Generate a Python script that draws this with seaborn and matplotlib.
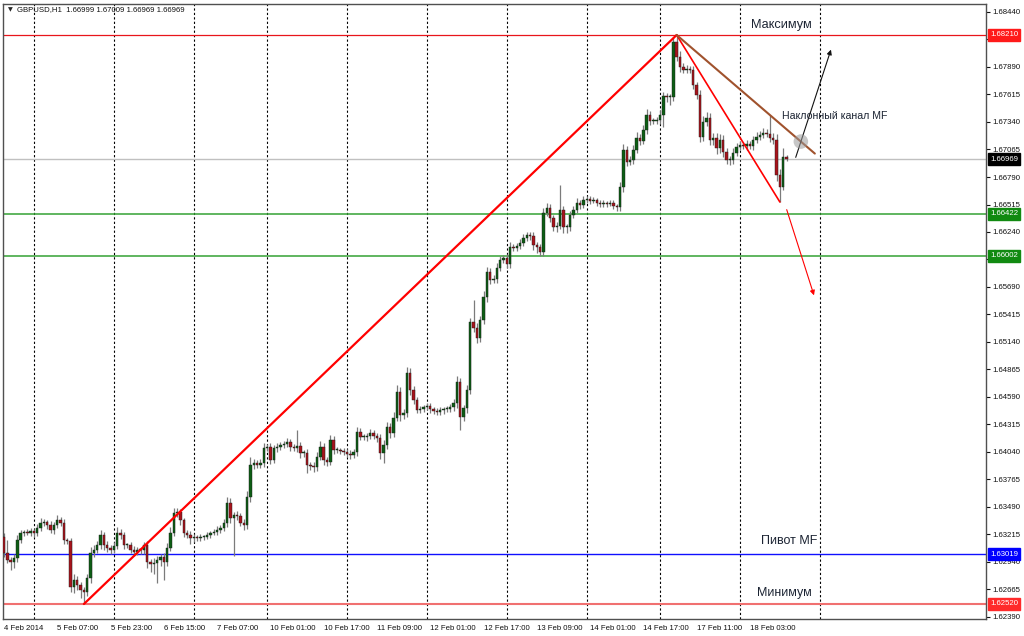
import numpy as np
import pandas as pd
import matplotlib
matplotlib.use("Agg")
import matplotlib.pyplot as plt
import seaborn as sns

# GBPUSD H1, hourly closes from 4 Feb 2014 15:00 to 18 Feb 2014
closes = [
    1.6303, 1.6296, 1.6294, 1.6298, 1.6316, 1.6323, 1.6324, 1.6323, 1.6325, 1.6323, 1.6328, 1.6333,
    1.6334, 1.6331, 1.6326, 1.6331, 1.6336, 1.6333, 1.6316, 1.6315, 1.6269, 1.6276, 1.6271, 1.6266,
    1.6264, 1.6278, 1.6303, 1.6306, 1.6311, 1.6321, 1.6311, 1.6308, 1.6306, 1.6310, 1.6323, 1.6321,
    1.6311, 1.6311, 1.6306, 1.6304, 1.6306, 1.6306, 1.6311, 1.6294, 1.6292, 1.6293, 1.6296, 1.6299,
    1.6294, 1.6308, 1.6323, 1.6343, 1.6344, 1.6336, 1.6323, 1.6321, 1.6318, 1.6319, 1.6318, 1.6319,
    1.6319, 1.6321, 1.6323, 1.6324, 1.6326, 1.6328, 1.6333, 1.6353, 1.6338, 1.6341, 1.6340, 1.6333,
    1.6331, 1.6359, 1.6391, 1.6393, 1.6391, 1.6393, 1.6408, 1.6409, 1.6396, 1.6408, 1.6409, 1.6411,
    1.6412, 1.6414, 1.6409, 1.6408, 1.6410, 1.6403, 1.6403, 1.6391, 1.6390, 1.6389, 1.6399, 1.6409,
    1.6396, 1.6394, 1.6416, 1.6406, 1.6406, 1.6405, 1.6404, 1.6402, 1.6401, 1.6404, 1.6424, 1.6419,
    1.6419, 1.6420, 1.6423, 1.6420, 1.6418, 1.6403, 1.6411, 1.6429, 1.6423, 1.6438, 1.6464, 1.6441,
    1.6443, 1.6483, 1.6466, 1.6456, 1.6446, 1.6447, 1.6449, 1.6450, 1.6447, 1.6445, 1.6444, 1.6446,
    1.6447, 1.6447, 1.6449, 1.6453, 1.6474, 1.6439, 1.6448, 1.6466, 1.6534, 1.6528, 1.6518, 1.6536,
    1.6559, 1.6584, 1.6576, 1.6577, 1.6588, 1.6596, 1.6598, 1.6592, 1.6609, 1.6608, 1.6610, 1.6613,
    1.6618, 1.6621, 1.6620, 1.6611, 1.6609, 1.6604, 1.6643, 1.6648, 1.6638, 1.6629, 1.6630, 1.6646,
    1.6629, 1.6629, 1.6641, 1.6646, 1.6653, 1.6651, 1.6656, 1.6657, 1.6655, 1.6656, 1.6653, 1.6652,
    1.6653, 1.6652, 1.6653, 1.6650, 1.6649, 1.6669, 1.6706, 1.6694, 1.6696, 1.6706, 1.6718, 1.6715,
    1.6726, 1.6741, 1.6735, 1.6735, 1.6736, 1.6741, 1.6760, 1.6759, 1.6759, 1.6814, 1.6799, 1.6789,
    1.6786, 1.6787, 1.6786, 1.6771, 1.6761, 1.6719, 1.6734, 1.6738, 1.6716, 1.6718, 1.6708, 1.6716,
    1.6704, 1.6696, 1.6696, 1.6703, 1.6709, 1.6711, 1.6710, 1.6712, 1.6710, 1.6716, 1.6719, 1.6721,
    1.6723, 1.6722, 1.6718, 1.6716, 1.6681, 1.6669, 1.6699, 1.6697,
]
first_open = 1.6319

# upper / lower shadows in pips
wick_up = [
    4, 13, 3, 4, 5, 3, 2, 3, 3, 2, 4, 5,
    3, 2, 4, 3, 5, 3, 4, 2, 3, 6, 4, 3,
    3, 4, 6, 5, 4, 5, 3, 4, 3, 4, 6, 4,
    3, 2, 3, 4, 3, 2, 3, 4, 3, 5, 4, 3,
    4, 5, 6, 5, 4, 3, 2, 3, 4, 3, 2, 3,
    2, 3, 2, 3, 4, 3, 4, 6, 5, 3, 4, 3,
    4, 6, 8, 4, 3, 4, 5, 3, 4, 3, 4, 3,
    3, 4, 3, 3, 16, 4, 3, 4, 3, 4, 5, 6,
    4, 3, 5, 4, 3, 2, 3, 3, 4, 3, 5, 4,
    3, 3, 4, 3, 3, 4, 5, 5, 4, 6, 7, 5,
    4, 6, 5, 4, 3, 3, 2, 3, 3, 2, 3, 3,
    2, 3, 3, 4, 6, 4, 3, 5, 4, 22, 5, 4,
    6, 5, 4, 4, 5, 4, 3, 4, 5, 3, 3, 4,
    4, 3, 3, 4, 3, 3, 5, 5, 4, 3, 4, 25,
    4, 3, 4, 4, 5, 3, 4, 3, 3, 3, 2, 3,
    3, 2, 3, 3, 2, 5, 6, 4, 4, 5, 6, 4,
    5, 6, 4, 3, 3, 5, 4, 3, 3, 5, 7, 6,
    4, 4, 3, 4, 3, 5, 6, 6, 5, 5, 5, 6,
    5, 4, 4, 5, 4, 4, 3, 4, 3, 4, 5, 4,
    5, 4, 19, 5, 6, 6, 9, 2,
]
wick_dn = [
    4, 3, 8, 6, 4, 3, 3, 2, 3, 4, 3, 3,
    3, 4, 3, 4, 3, 3, 4, 3, 5, 6, 5, 8,
    12, 4, 5, 4, 3, 4, 5, 4, 4, 3, 3, 4,
    4, 3, 3, 4, 3, 4, 4, 6, 8, 10, 20, 6,
    18, 4, 3, 3, 4, 5, 4, 3, 6, 4, 3, 3,
    3, 2, 3, 2, 3, 3, 3, 4, 5, 38, 4, 3,
    5, 4, 5, 4, 3, 3, 4, 3, 4, 3, 4, 3,
    3, 3, 4, 3, 4, 5, 4, 8, 4, 5, 4, 3,
    5, 4, 3, 4, 3, 3, 3, 3, 4, 3, 4, 3,
    3, 4, 3, 3, 4, 6, 10, 4, 5, 4, 3, 6,
    4, 4, 5, 4, 3, 3, 3, 3, 4, 3, 3, 3,
    4, 3, 3, 4, 5, 13, 4, 5, 4, 4, 5, 4,
    4, 5, 4, 3, 4, 3, 3, 4, 4, 3, 3, 3,
    3, 3, 4, 5, 6, 4, 4, 3, 4, 4, 5, 3,
    6, 6, 4, 3, 3, 4, 3, 3, 3, 2, 3, 3,
    3, 3, 2, 3, 4, 4, 5, 4, 3, 4, 3, 4,
    3, 4, 4, 3, 3, 4, 12, 5, 8, 4, 4, 5,
    3, 3, 3, 4, 4, 5, 4, 4, 5, 5, 6, 5,
    5, 4, 5, 4, 3, 3, 3, 4, 3, 4, 3, 3,
    3, 3, 4, 4, 6, 15, 3, 2,
]

xtick_bars = [0, 16, 32, 48, 64, 80, 96, 112, 128, 144, 160, 176, 192, 208, 224]
xtick_labels = ['4 Feb 2014', '5 Feb 07:00', '5 Feb 23:00', '6 Feb 15:00', '7 Feb 07:00',
                '10 Feb 01:00', '10 Feb 17:00', '11 Feb 09:00', '12 Feb 01:00', '12 Feb 17:00',
                '13 Feb 09:00', '14 Feb 01:00', '14 Feb 17:00', '17 Feb 11:00', '18 Feb 03:00']
day_start_bars = [9, 33, 57, 79, 103, 127, 151, 175, 197, 221, 245]
ytick_vals = [1.68440, 1.68165, 1.67890, 1.67615, 1.67340, 1.67065, 1.66790, 1.66515,
              1.66240, 1.65965, 1.65690, 1.65415, 1.65140, 1.64865, 1.64590, 1.64315,
              1.64040, 1.63765, 1.63490, 1.63215, 1.62940, 1.62665, 1.62390]

# horizontal levels: maximum, bid, two green levels, pivot MF, minimum
level_prices = [1.68210, 1.66969, 1.66422, 1.66002, 1.63019, 1.62520]
channel_touch_bar = 230
# hand drawn forecast arrows (bar, price)
arrow_up = [(237.5, 1.6696), (248.6, 1.6809)]
arrow_down = [(234.8, 1.6649), (243.5, 1.6558)]

df = pd.DataFrame({'close': closes})
df['open'] = df['close'].shift(1).fillna(first_open)
df['high'] = df[['open', 'close']].max(axis=1) + np.array(wick_up) * 0.0001
df['low'] = df[['open', 'close']].min(axis=1) - np.array(wick_dn) * 0.0001

sns.set_style('white')
plt.rcParams['font.family'] = ['Liberation Sans', 'DejaVu Sans']

fig = plt.figure(figsize=(10.24, 6.36), dpi=100)
ax = fig.add_axes([3 / 1024, 17 / 636, 983 / 1024, 615 / 636])
ax.set_xlim(-0.3, 294.9)
ax.set_ylim(1.6237, 1.6852)

# day separators
for b in day_start_bars:
    ax.axvline(b, color='black', lw=0.8, ls=(0, (2, 2)), zorder=1)

# levels
lv_colors = ['#e8151b', '#c0c0c0', '#34a234', '#34a234', '#1010ff', '#f07070']
lv_widths = [0.9, 1.0, 1.1, 1.1, 1.0, 1.5]
box_colors = ['#ff1a1a', '#000000', '#118a11', '#118a11', '#0000ff', '#ff2a2a']
for p, c, w in zip(level_prices, lv_colors, lv_widths):
    ax.axhline(p, color=c, lw=w, zorder=1.5)

# candles
up = df['close'] >= df['open']
ax.vlines(df.index, df['low'], df['high'], color='#7b7b7b', lw=0.9, zorder=2)
body = (df['close'] - df['open']).abs().clip(lower=0.00007)
bottom = df[['open', 'close']].min(axis=1)
ax.bar(df.index[up], body[up], bottom=bottom[up], width=0.72,
       color='#0d5e14', edgecolor='#1a1a1a', lw=0.3, zorder=3)
ax.bar(df.index[~up], body[~up], bottom=bottom[~up], width=0.72,
       color='#a8141c', edgecolor='#1a1a1a', lw=0.3, zorder=3)

# trend lines
i_lo = int(df['low'].idxmin())
i_hi = int(df['high'].idxmax())
hi = df['high'][i_hi]
sns.lineplot(x=[i_lo, i_hi], y=[df['low'][i_lo], hi], color='#ff0000', lw=1.6, ax=ax, zorder=4)
i_fall = int(df['low'][i_hi:].idxmin())
sns.lineplot(x=[i_hi, i_fall], y=[hi, df['low'][i_fall]], color='#ff0000', lw=1.2, ax=ax, zorder=4)
slope = (df['high'][channel_touch_bar] - hi) / (channel_touch_bar - i_hi)
chan_end = 243.5
sns.lineplot(x=[i_hi, chan_end], y=[hi, hi + slope * (chan_end - i_hi)],
             color='#a0522d', lw=1.5, ax=ax, zorder=4)

ax.annotate('', xy=arrow_down[1], xytext=arrow_down[0],
            arrowprops=dict(arrowstyle='-|>', color='#ff0000', lw=0.8, mutation_scale=7), zorder=5)
ax.annotate('', xy=arrow_up[1], xytext=arrow_up[0],
            arrowprops=dict(arrowstyle='-|>', color='#111111', lw=0.8, mutation_scale=7), zorder=5)
x_cross = 239.3
ax.scatter([x_cross], [hi + slope * (x_cross - i_hi)], s=110, color='#9a9a9a', alpha=0.55,
           edgecolor='none', zorder=5)

# texts
txt_col = '#1c2433'
ax.text(233.6, 1.6831, 'Максимум', fontsize=9.2, color=txt_col, ha='center', va='center', zorder=6)
ax.text(233.6, 1.6740, 'Наклонный канал MF', fontsize=7.6, color=txt_col, ha='left', va='center', zorder=6)
ax.text(235.7, 1.6315, 'Пивот MF', fontsize=9, color=txt_col, ha='center', va='center', zorder=6)
ax.text(234.5, 1.6263, 'Минимум', fontsize=9, color=txt_col, ha='center', va='center', zorder=6)

# axes
ax.yaxis.tick_right()
ax.set_yticks(ytick_vals)
ax.set_yticklabels([f'{v:.5f}' for v in ytick_vals])
ax.set_xticks(xtick_bars)
ax.set_xticklabels(xtick_labels, ha='left')
ax.tick_params(axis='y', direction='out', length=3, width=0.8, pad=1.5, labelsize=5.6, colors='#111111')
ax.tick_params(axis='x', direction='out', length=3, width=0.8, pad=1.5, labelsize=5.6, colors='#111111')
for s in ax.spines.values():
    s.set_color('#505050')
    s.set_linewidth(1.0)

for p, c in zip(level_prices, box_colors):
    ax.text(1.0041, p, f'{p:.5f}', transform=ax.get_yaxis_transform(), ha='left', va='center',
            fontsize=5.6, color='white', zorder=10, clip_on=False,
            bbox=dict(boxstyle='square,pad=0.3', fc=c, ec=c))

fig.text(8 / 1024, 1 - 10 / 636, '▼', fontsize=4.5, va='center', family=['DejaVu Sans'])
fig.text(17 / 1024, 1 - 10 / 636, 'GBPUSD,H1  1.66999 1.67009 1.66969 1.66969',
         fontsize=5.6, va='center', color='#111111')

fig.savefig('out.png', dpi=100)
